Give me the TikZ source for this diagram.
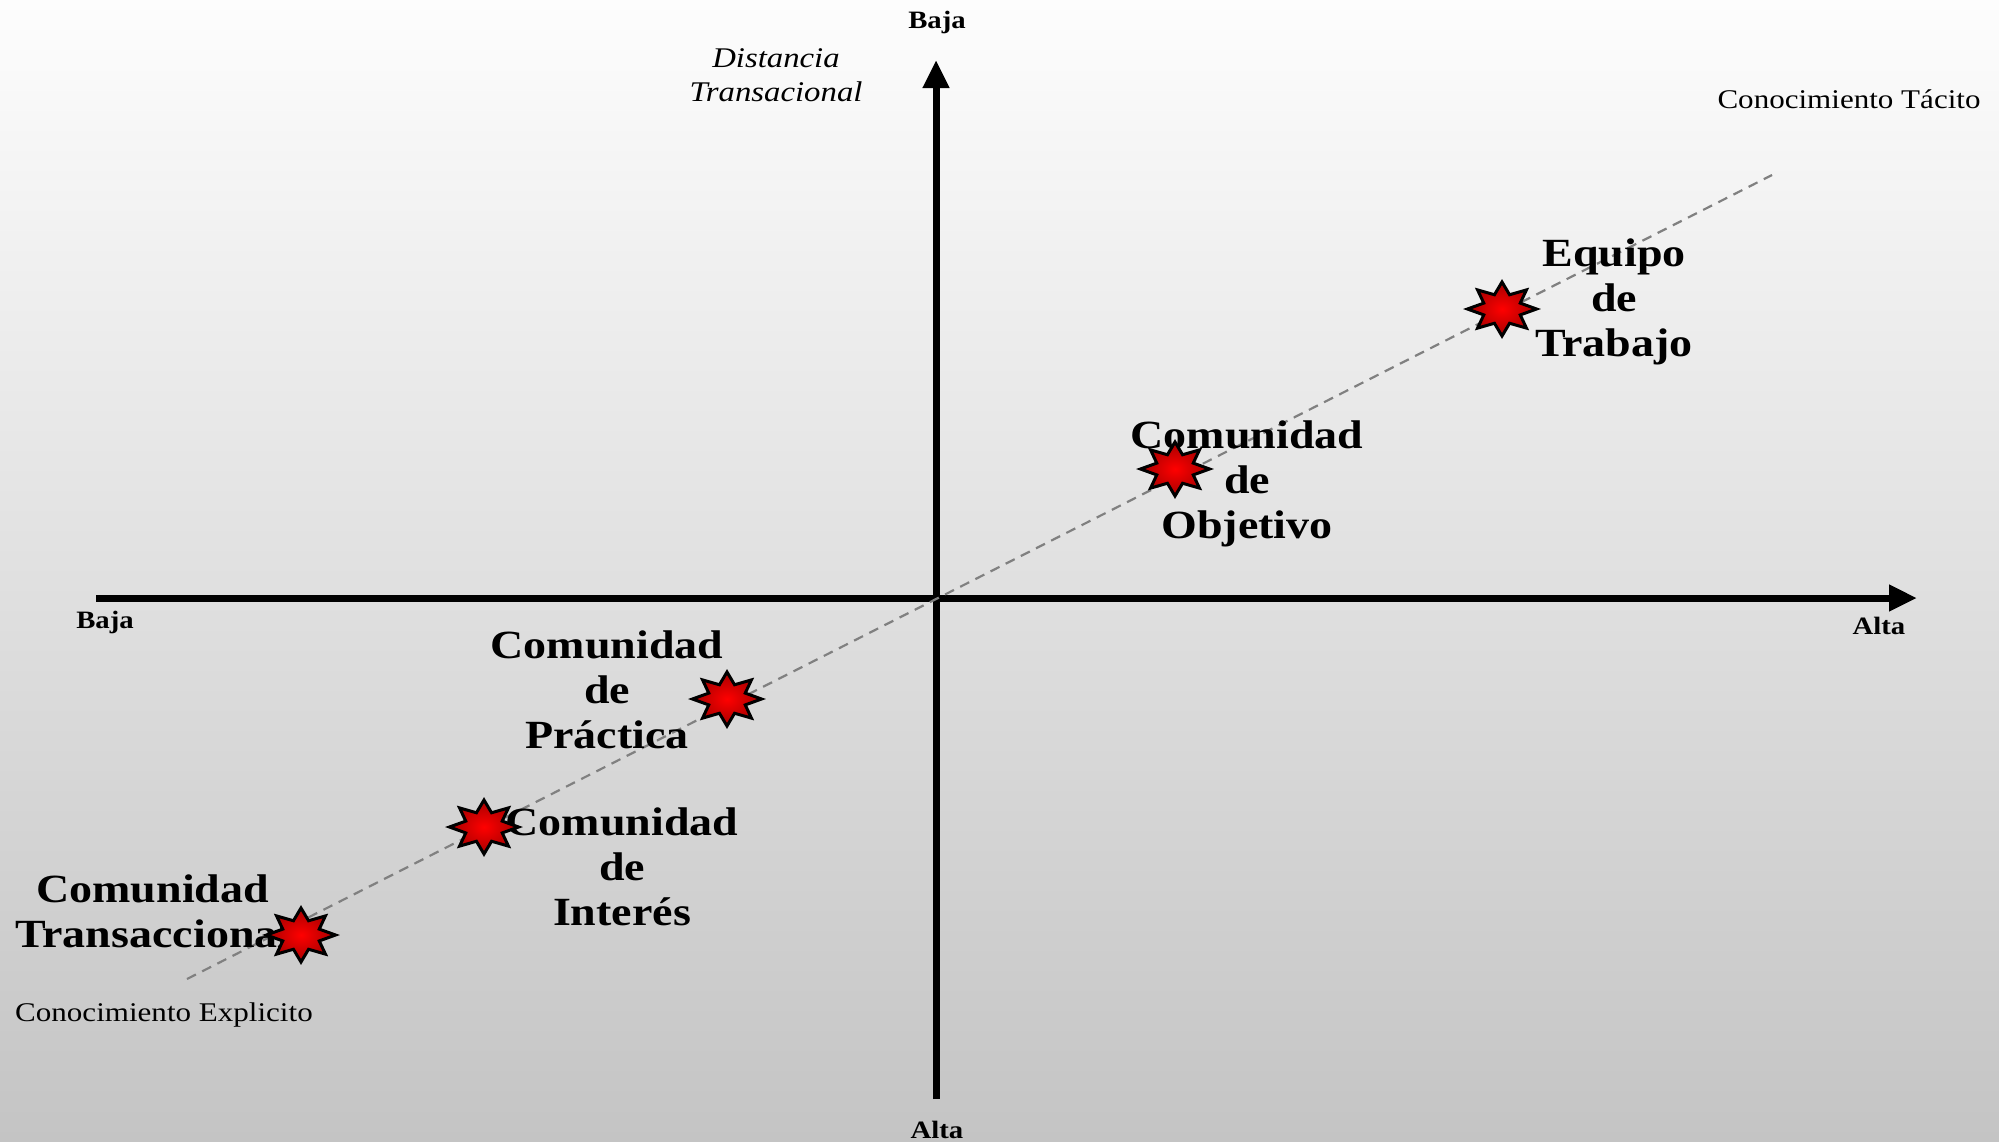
\documentclass[tikz,border=0pt]{standalone}
\usepackage{fontspec}
\setmainfont{Liberation Serif}[FakeStretch=1.15]
\usetikzlibrary{shapes.geometric,arrows.meta}
\definecolor{bgtop}{RGB}{253,253,253}
\definecolor{bgbot}{RGB}{196,196,196}
\definecolor{dashgray}{RGB}{128,128,128}
\tikzset{
  axisline/.style={line width=7pt,-{Triangle[length=28pt,width=25pt]}},
  diagline/.style={dashgray,line width=2.2pt,dash pattern=on 10pt off 7pt},
  bigbold/.style={font=\fontsize{40}{45}\selectfont\bfseries,align=center,inner sep=0pt},
  axlabel/.style={font=\fontsize{25}{28}\selectfont\bfseries,inner sep=0pt},
  small/.style={font=\fontsize{27}{30}\selectfont,inner sep=0pt},
  starnode/.style={shape=star,star points=8,star point ratio=1.75,
    minimum size=54pt,inner sep=0pt,draw=black,line width=3pt,
    inner color=red!100,outer color=red!65!black,xscale=1.28,transform shape}
}
\begin{document}
\begin{tikzpicture}[x=1pt,y=-1pt]
\shade[top color=bgtop,bottom color=bgbot] (0,0) rectangle (1999,1141);
\useasboundingbox (0,0) rectangle (1999,1141);
% axes
\coordinate (hL) at (96,598);
\coordinate (hR) at (1917,598);
\coordinate (vB) at (936,1099);
\coordinate (vT) at (936,60);
\draw[axisline] (hL) -- (hR);
\draw[axisline] (vB) -- (vT);
% diagonal
\coordinate (dA) at (187,979);
\coordinate (dB) at (1772,175);
\draw[diagline] (dA) -- (dB);
% axis labels
\node[axlabel] (bajatop) at (937,22) {Baja};
\node[axlabel] (altabot) at (937,1130) {Alta};
\node[axlabel] (bajaleft) at (105,622) {Baja};
\node[axlabel] (altaright) at (1879,626) {Alta};
\node[small,font=\fontsize{28.5}{34}\selectfont\itshape,align=center] (dist) at (776,75) {Distancia\\Transacional};
\node[small] (tacito) at (1849,99) {Conocimiento Tácito};
\node[small,anchor=west] (explicito) at (15,1015) {Conocimiento Explicito};
% labels
\node[bigbold] (lEquipo) at (1614,302) {Equipo\\de\\Trabajo};
\node[bigbold] (lObj) at (1247,484) {Comunidad\\de\\Objetivo};
\node[bigbold] (lPra) at (607,690) {Comunidad\\de\\Práctica};
\node[bigbold] (lInt) at (622,867) {Comunidad\\de\\Interés};
\node[bigbold,anchor=west] (lTra) at (15,911) {Comunidad\\Transaccional};
% stars
\node[starnode] (sEquipo) at (1502,309) {};
\node[starnode] (sObj) at (1175,469) {};
\node[starnode] (sPra) at (727,699) {};
\node[starnode] (sInt) at (484,827) {};
\node[starnode] (sTra) at (301,935) {};
\end{tikzpicture}
\end{document}
